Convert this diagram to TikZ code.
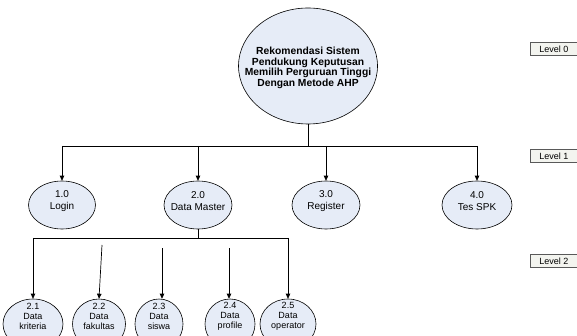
\documentclass[tikz,border=0pt]{standalone}
\usepackage{fontspec}
\setmainfont{Liberation Sans}
\usetikzlibrary{shapes.geometric,arrows.meta}
\definecolor{procfill}{HTML}{E6ECF7}
\definecolor{lvlfill}{HTML}{F3F4EF}
\tikzset{
  bubble/.style={ellipse,draw=black,line width=0.6pt,fill=procfill,inner sep=0pt},
  ptext/.style={align=center,inner sep=0pt,yshift=4pt,font=\fontsize{10}{12.5}\selectfont},
  stext/.style={align=center,inner sep=0pt,yshift=8pt,font=\fontsize{9}{10}\selectfont},
  mtext/.style={align=center,inner sep=0pt,yshift=-2pt,font=\bfseries\fontsize{10.3}{10.5}\selectfont},
  lvl/.style={draw=black!65,line width=0.5pt,fill=lvlfill,minimum width=52pt,minimum height=13pt,inner sep=0pt,anchor=west,font=\fontsize{9}{10}\selectfont},
  link/.style={line width=0.7pt},
  arr/.style={line width=0.7pt,-{Triangle[length=5pt,width=4.5pt]}}
}
\begin{document}
\begin{tikzpicture}[x=1pt,y=-1pt]
\useasboundingbox (0,0) rectangle (577,336);
\clip (0,0) rectangle (577,336);
% main process
\node[bubble,minimum width=139pt,minimum height=116pt,
  label={[mtext]center:Rekomendasi Sistem\\Pendukung Keputusan\\Memilih Perguruan Tinggi\\Dengan Metode AHP}] (main) at (308,66) {};
% level 1
\node[bubble,minimum width=67pt,minimum height=48pt,label={[ptext]center:1.0\\Login}] (p1) at (62,205) {};
\node[bubble,minimum width=68pt,minimum height=48pt,label={[ptext]center:2.0\\Data Master}] (p2) at (198,205) {};
\node[bubble,minimum width=68pt,minimum height=48pt,label={[ptext]center:3.0\\Register}] (p3) at (326,205) {};
\node[bubble,minimum width=70pt,minimum height=48pt,label={[ptext]center:4.0\\Tes SPK}] (p4) at (477,205) {};
% level 2
\node[bubble,minimum width=60pt,minimum height=50pt,label={[stext]center:2.1\\Data\\kriteria}] (s1) at (33,324) {};
\node[bubble,minimum width=53pt,minimum height=50pt,label={[stext]center:2.2\\Data\\fakultas}] (s2) at (99,324) {};
\node[bubble,minimum width=48pt,minimum height=50pt,label={[stext]center:2.3\\Data\\siswa}] (s3) at (159,324) {};
\node[bubble,minimum width=50pt,minimum height=50pt,label={[stext]center:2.4\\Data\\profile}] (s4) at (230,324) {};
\node[bubble,minimum width=56pt,minimum height=50pt,label={[stext]center:2.5\\Data\\operator}] (s5) at (288,324) {};
% level labels
\node[lvl] (l0) at (530,49) {\hspace*{-5pt}Level 0};
\node[lvl] (l1) at (530,156) {\hspace*{-5pt}Level 1};
\node[lvl] (l2) at (530,261) {\hspace*{-5pt}Level 2};
% connectors level 0 -> 1
\coordinate (j0) at (308,146);
\draw[link] (main.south) -- (j0);
\draw[link] (p1.north |- j0) -- (p4.north |- j0);
\draw[arr] (p1.north |- j0) -- (p1.north);
\draw[arr] (p2.north |- j0) -- (p2.north);
\draw[arr] (p3.north |- j0) -- (p3.north);
\draw[arr] (p4.north |- j0) -- (p4.north);
% connectors level 1 -> 2
\coordinate (j1) at (198,238);
\draw[link] (p2.south) -- (j1);
\draw[link] (s1.north |- j1) -- (s5.north |- j1);
\draw[arr] (s1.north |- j1) -- (s1.north);
\draw[arr] (s5.north |- j1) -- (s5.north);
\coordinate (f2) at (102,245);
\coordinate (f3) at (162,248);
\coordinate (f4) at (229,248);
\draw[arr] (f2) -- (s2.north);
\draw[arr] (f3) -- (f3 |- s3.north);
\draw[arr] (f4) -- (f4 |- s4.north);
\end{tikzpicture}
\end{document}
